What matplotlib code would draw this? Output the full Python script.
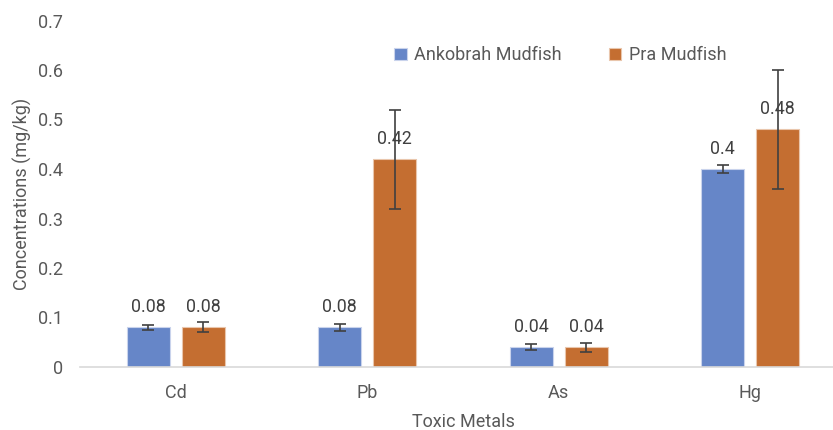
import numpy as np
import matplotlib.pyplot as plt

plt.rcParams['font.family'] = ['Roboto', 'DejaVu Sans']

# Data
metals = ['Cd', 'Pb', 'As', 'Hg']
ankobrah = [0.08, 0.08, 0.04, 0.40]
pra = [0.08, 0.42, 0.04, 0.48]
ankobrah_err = [0.005, 0.007, 0.006, 0.008]
pra_err = [0.01, 0.10, 0.009, 0.12]
yticks = [0, 0.1, 0.2, 0.3, 0.4, 0.5, 0.6, 0.7]

BLUE = '#6686C8'
ORANGE = '#C46E31'
TXT = '#595959'

fig = plt.figure(figsize=(8.33, 4.30), dpi=100)
# axes run slightly past the right edge, as in the reference
ax = fig.add_axes([80 / 833, 63 / 430, 766 / 833, 346.5 / 430])

x = np.arange(len(metals))
w = 0.225
off = 0.144
ekw = dict(ecolor='#404040', elinewidth=1.2, capsize=4, capthick=1.2)
b1 = ax.bar(x - off, ankobrah, w, color=BLUE, edgecolor='#C9D3EC', linewidth=0.8,
            yerr=ankobrah_err, error_kw=ekw, label='Ankobrah Mudfish', zorder=2)
b2 = ax.bar(x + off, pra, w, color=ORANGE, edgecolor='#E9C6AC', linewidth=0.8,
            yerr=pra_err, error_kw=ekw, label='Pra Mudfish', zorder=2)

for bars, vals in [(b1, ankobrah), (b2, pra)]:
    for rect, v in zip(bars, vals):
        ax.annotate('{:g}'.format(v), (rect.get_x() + rect.get_width() / 2, v),
                    xytext=(0, 14.5), textcoords='offset points',
                    ha='center', va='center', fontsize=12.8, color='#404040', zorder=3)

ax.set_xlim(-0.5, 3.5)
ax.set_ylim(0, 0.7)
ax.set_yticks(yticks)
ax.set_yticklabels(['0' if t == 0 else '{:.1f}'.format(t) for t in yticks])
ax.set_xticks(x)
ax.set_xticklabels(metals)
ax.tick_params(axis='both', length=0, labelsize=13, labelcolor=TXT)
ax.tick_params(axis='y', pad=12.5)
ax.tick_params(axis='x', pad=12)

for s in ['top', 'right', 'left']:
    ax.spines[s].set_visible(False)
ax.spines['bottom'].set_color('#D9D9D9')
ax.spines['bottom'].set_linewidth(1.2)

ax.set_ylabel('Concentrations (mg/kg)', fontsize=13, color=TXT, labelpad=4)
ax.set_xlabel('Toxic Metals', fontsize=13, color=TXT, labelpad=8)

ax.legend(loc='center', bbox_to_anchor=(0.627, 0.9), ncol=2, frameon=False,
          fontsize=13, labelcolor=TXT, handlelength=0.7, handleheight=0.7,
          handletextpad=0.4, columnspacing=2.6)

fig.savefig('out.png', dpi=100)
